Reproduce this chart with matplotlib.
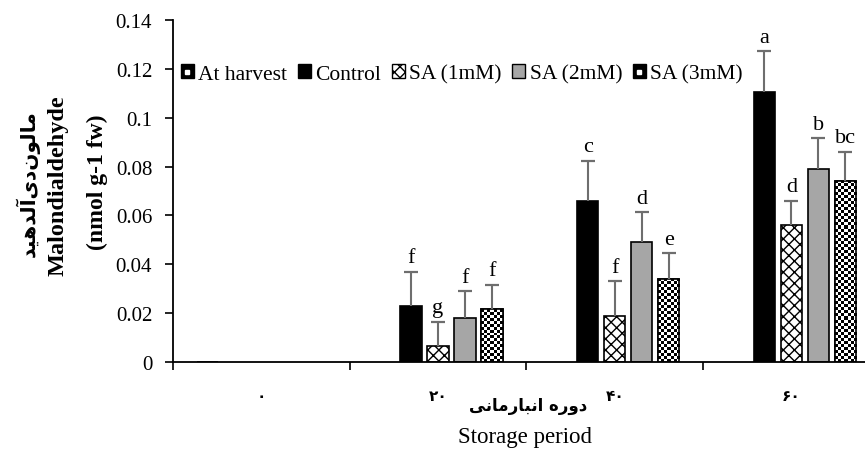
import numpy as np
import matplotlib
matplotlib.use("Agg")
import matplotlib.pyplot as plt
from matplotlib.patches import Patch
from matplotlib.lines import Line2D
from matplotlib.legend_handler import HandlerTuple

plt.rcParams['font.family'] = ['Liberation Serif', 'DejaVu Sans']
plt.rcParams['hatch.linewidth'] = 1.0

# ---- data ----
categories = ["\u06f0", "\u06f2\u06f0", "\u06f4\u06f0", "\u06f6\u06f0"]
series = ["At harvest", "Control", "SA (1mM)", "SA (2mM)", "SA (3mM)"]
at_harvest = [0.0, np.nan, np.nan, np.nan]
control = [np.nan, 0.0228, 0.066, 0.1104]
sa1 = [np.nan, 0.0067, 0.019, 0.0562]
sa2 = [np.nan, 0.0178, 0.049, 0.079]
sa3 = [np.nan, 0.0215, 0.034, 0.0742]
err_control = [np.nan, 0.0142, 0.0164, 0.0169]
err_sa1 = [np.nan, 0.0098, 0.014, 0.0098]
err_sa2 = [np.nan, 0.0111, 0.0123, 0.0127]
err_sa3 = [np.nan, 0.0102, 0.0106, 0.0119]
letters_control = ["", "f", "c", "a"]
letters_sa1 = ["", "g", "f", "d"]
letters_sa2 = ["", "f", "d", "b"]
letters_sa3 = ["", "f", "e", "bc"]
yticks = [0, 0.02, 0.04, 0.06, 0.08, 0.1, 0.12, 0.14]
yticklabels = ["0", "0.02", "0.04", "0.06", "0.08", "0.1", "0.12", "0.14"]

# Persian labels (pre-shaped presentation forms, visual order)
def visual(s):
    return s[::-1]
xlabel_fa = visual("\uFEA9\uFEED\uFEAD\uFEE9 \uFE8D\uFEE7\uFE92\uFE8E\uFEAD\uFEE3\uFE8E\uFEE7\uFEF0")
ylabel_fa = visual("\uFEE3\uFE8E\uFEDF\uFEEE\uFEE5\uFEA9\uFEEF\uFE81\uFEDF\uFEAA\uFEEB\uFEF4\uFEAA")

values = [at_harvest, control, sa1, sa2, sa3]
errors = [None, err_control, err_sa1, err_sa2, err_sa3]
letters = [None, letters_control, letters_sa1, letters_sa2, letters_sa3]
faces = ['black', 'black', 'white', '#a6a6a6', 'white']
hatches = ['', '', 'xxx', '', '']

fig = plt.figure(figsize=(8.65, 4.52), dpi=100)
ax_w, ax_h = 0.817, 0.7565
ax = fig.add_axes([0.2, 0.197, ax_w, ax_h])
ax.set_xlim(-0.5, 3.5)
ax.set_ylim(0, 0.14)
px_per_x = ax_w * 865 / 4.0
px_per_y = ax_h * 452 / 0.14

x = np.arange(len(categories))
step = 0.153
width = 0.12
for i, (vals, name) in enumerate(zip(values, series)):
    offs = (i - 2) * step
    v = np.array(vals, dtype=float)
    m = ~np.isnan(v)
    bars = ax.bar(x[m] + offs, v[m], width=width, color=faces[i], edgecolor='black',
                  linewidth=1.2, hatch=hatches[i], zorder=2)
    if i == 4:
        # checkerboard fill
        for b in bars:
            x0, y0 = b.get_x(), b.get_y()
            w, h = b.get_width(), b.get_height()
            cell = 3.0
            nc = max(1, int(round(w * px_per_x / cell)))
            nr = max(1, int(round(h * px_per_y / cell)))
            chk = (np.indices((nr, nc)).sum(axis=0) % 2).astype(float)
            im = ax.imshow(chk, extent=[x0, x0 + w, y0, y0 + h], cmap='gray',
                           interpolation='nearest', aspect='auto', zorder=2.1,
                           vmin=0, vmax=1)
            im.set_clip_path(b)
        ax.bar(x[m] + offs, v[m], width=width, color='none', edgecolor='black',
               linewidth=1.2, zorder=2.2)
    if errors[i] is not None:
        e = np.array(errors[i], dtype=float)
        ax.errorbar(x[m] + offs, v[m], yerr=[np.zeros(m.sum()), e[m]], fmt='none',
                    ecolor='#6e6e6e', elinewidth=1.5, capsize=0, zorder=3)
        ax.plot(x[m] + offs, v[m] + e[m], linestyle='none', marker='_',
                markersize=10, markeredgewidth=1.6, color='#6e6e6e', zorder=3)
        for xi, vi, ei, lt in zip(x[m] + offs, v[m], e[m], np.array(letters[i])[m]):
            ax.text(xi, vi + ei + 0.0018, lt, ha='center', va='bottom', fontsize=16)

ax.set_xlim(-0.5, 3.5)
ax.set_ylim(0, 0.14)
ax.set_yticks(yticks)
ax.set_yticklabels(yticklabels, fontsize=15)
ax.tick_params(axis='y', direction='out', length=6, width=1.2, pad=9)
ax.set_xticks(np.arange(-0.5, 3.5, 1.0))
ax.set_xticklabels([])
ax.tick_params(axis='x', which='major', direction='out', length=6, width=1.2)
ax.set_xticks(x, minor=True)
ax.set_xticklabels(categories, minor=True, fontsize=11, fontweight='bold',
                   family=['DejaVu Sans'])
ax.tick_params(axis='x', which='minor', length=0, pad=19)
for s in ['top', 'right']:
    ax.spines[s].set_visible(False)
for s in ['left', 'bottom']:
    ax.spines[s].set_linewidth(1.3)

fig.text(528 / 865, 1 - 406 / 452, xlabel_fa, ha='center', va='center', fontsize=12,
         fontweight='bold', family=['DejaVu Sans'])
fig.text(525 / 865, 1 - 438 / 452, "Storage period", ha='center', va='center', fontsize=16.5)
fig.text(28 / 865, 1 - 184 / 452, ylabel_fa, rotation=90, ha='center', va='center',
         fontsize=14.5, fontweight='bold', family=['DejaVu Sans'])
fig.text(58 / 865, 1 - 186 / 452, "Malondialdehyde", rotation=90, ha='center', va='center',
         fontsize=17.5, fontweight='bold')
fig.text(97 / 865, 1 - 182 / 452, "(nmol g-1 fw)", rotation=90, ha='center', va='center',
         fontsize=17, fontweight='bold')

dot = Line2D([], [], marker='s', color='white', markersize=3.5, linestyle='none')
handles = [
    (Patch(facecolor='black', edgecolor='black'), dot),
    Patch(facecolor='black', edgecolor='black'),
    Patch(facecolor='white', edgecolor='black', hatch='xxx'),
    Patch(facecolor='#a6a6a6', edgecolor='black'),
    (Patch(facecolor='black', edgecolor='black'), dot),
]
fig.legend(handles, series, loc='center', bbox_to_anchor=(0.534, 1 - 75 / 452), ncol=5,
           frameon=False, fontsize=15.5, handlelength=0.6, handleheight=0.6,
           handletextpad=0.2, columnspacing=0.5, borderaxespad=0,
           handler_map={tuple: HandlerTuple(ndivide=1)})

fig.savefig("out.png", dpi=100)
